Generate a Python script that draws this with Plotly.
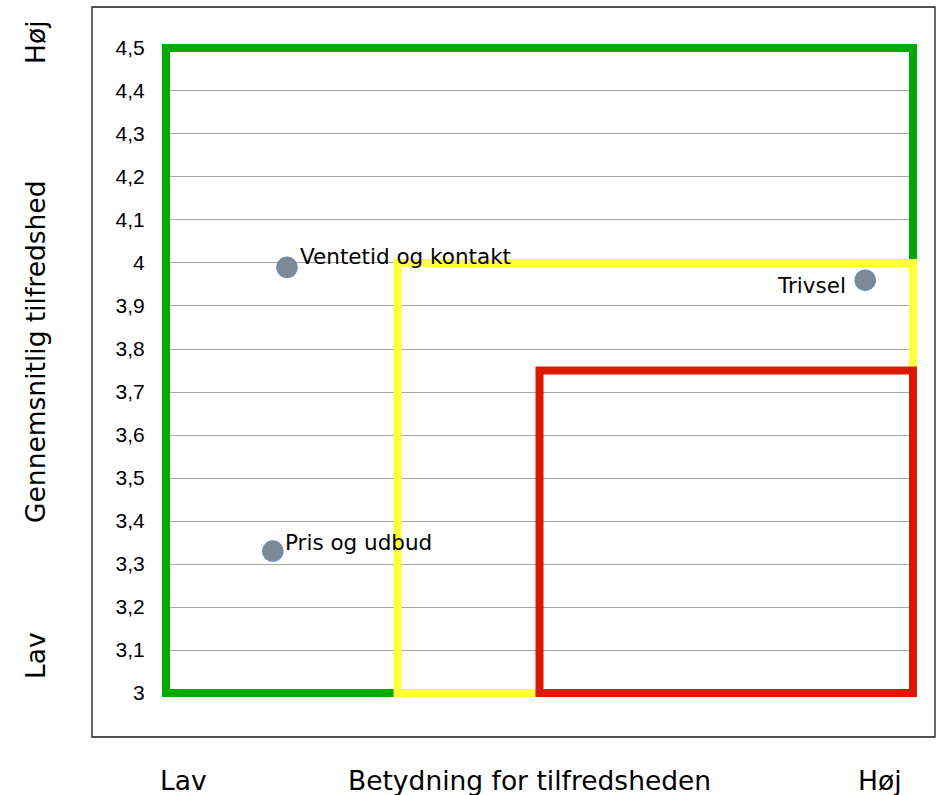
import plotly.graph_objects as go

# ---- data ----
labels = ["Ventetid og kontakt", "Pris og udbud", "Trivsel"]
importance = [0.162, 0.143, 0.936]      # x: Betydning for tilfredsheden (relative)
satisfaction = [3.99, 3.33, 3.96]        # y: Gennemsnitlig tilfredshed

# quadrant boxes: (x0, x1, y0, y1)
box_names = ["green", "yellow", "red"]
box_x0 = [0.0, 0.31, 0.50]
box_x1 = [1.0, 1.0, 1.0]
box_y0 = [3.0, 3.0, 3.0]
box_y1 = [4.5, 4.0, 3.75]
box_colors = ["#00aa00", "#ffff3a", "#dd1800"]

y_tickvals = [3.0, 3.1, 3.2, 3.3, 3.4, 3.5, 3.6, 3.7, 3.8, 3.9, 4.0, 4.1, 4.2, 4.3, 4.4, 4.5]
y_ticktext = ["3", "3,1", "3,2", "3,3", "3,4", "3,5", "3,6", "3,7", "3,8", "3,9",
              "4", "4,1", "4,2", "4,3", "4,4", "4,5"]

# ---- layout geometry ----
W, H = 937, 795
L, R, T, B = 162, 20, 42, 96
PW, PH = W - L - R, H - T - B


def px(xp):
    return (xp - L) / PW


def py(yp):
    return (H - B - yp) / PH


fig = go.Figure()

fig.add_trace(go.Scatter(
    x=importance, y=satisfaction, mode="markers",
    marker=dict(size=20, color="#7d8996", line=dict(color="#6f8bab", width=1.5)),
    cliponaxis=False, hoverinfo="text", text=labels, showlegend=False,
))

shapes = []
for i in range(len(box_names)):
    shapes.append(dict(type="rect", xref="x", yref="y",
                       x0=box_x0[i], x1=box_x1[i], y0=box_y0[i], y1=box_y1[i],
                       line=dict(color=box_colors[i], width=8),
                       fillcolor="rgba(0,0,0,0)", layer="between"))
# outer chart frame
shapes.append(dict(type="rect", xref="paper", yref="paper",
                   x0=px(92), x1=px(935), y0=py(737), y1=py(7),
                   line=dict(color="#1a1a1a", width=1.3), fillcolor="rgba(0,0,0,0)"))

label_font = dict(family="DejaVu Sans, Verdana, sans-serif", size=21.5, color="black")
offsets = [  # (xanchor, xshift, yshift)
    ("left", 11, 11),
    ("left", 10, 9),
    ("right", -17, -5),
]
annotations = []
for i, lab in enumerate(labels):
    xa, xs, ys = offsets[i]
    annotations.append(dict(x=importance[i], y=satisfaction[i], xref="x", yref="y",
                            text=lab, showarrow=False, xanchor=xa, yanchor="middle",
                            xshift=xs, yshift=ys, font=label_font))

title_font = dict(family="DejaVu Sans, Verdana, sans-serif", size=26.5, color="black")
annotations += [
    dict(x=px(529), y=py(780), xref="paper", yref="paper", text="Betydning for tilfredsheden",
         showarrow=False, xanchor="center", yanchor="middle", font=title_font),
    dict(x=px(183), y=py(780), xref="paper", yref="paper", text="Lav",
         showarrow=False, xanchor="center", yanchor="middle", font=title_font),
    dict(x=px(880), y=py(780), xref="paper", yref="paper", text="Høj",
         showarrow=False, xanchor="center", yanchor="middle", font=title_font),
    dict(x=px(35), y=py(352), xref="paper", yref="paper", text="Gennemsnitlig tilfredshed",
         showarrow=False, xanchor="center", yanchor="middle", textangle=-90, font=title_font),
    dict(x=px(35), y=py(42), xref="paper", yref="paper", text="Høj",
         showarrow=False, xanchor="center", yanchor="middle", textangle=-90, font=title_font),
    dict(x=px(35), y=py(656), xref="paper", yref="paper", text="Lav",
         showarrow=False, xanchor="center", yanchor="middle", textangle=-90, font=title_font),
]

fig.update_layout(
    width=W, height=H,
    margin=dict(l=L, r=R, t=T, b=B, pad=0),
    paper_bgcolor="white", plot_bgcolor="white",
    shapes=shapes, annotations=annotations,
    showlegend=False,
)
fig.update_xaxes(range=[-4 / 747, 1 + 4 / 747], showgrid=False, zeroline=False,
                 showticklabels=False, showline=False, ticks="")
fig.update_yaxes(range=[3.0 - 4 / 432.7 * 1.5, 4.5 + 4 / 432.7 * 1.5],
                 tickvals=y_tickvals, ticktext=y_ticktext,
                 showgrid=True, gridcolor="#a6a6a6", gridwidth=1,
                 zeroline=False, showline=False,
                 ticks="outside", ticklen=12, tickcolor="rgba(0,0,0,0)",
                 tickfont=dict(family="Liberation Sans, Arial, sans-serif", size=21, color="black"))

fig.write_html("out.html", config={"displayModeBar": False},
               post_script="document.body.style.margin='0';document.body.style.overflow='hidden';")
